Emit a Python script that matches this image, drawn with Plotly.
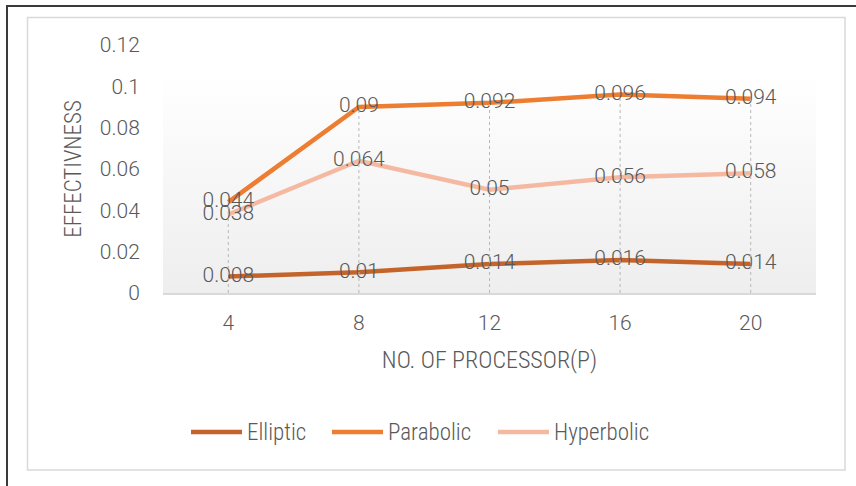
import plotly.graph_objects as go

# ---- data ----
processors = [4, 8, 12, 16, 20]
elliptic = [0.008, 0.010, 0.014, 0.016, 0.014]
parabolic = [0.044, 0.090, 0.092, 0.096, 0.094]
hyperbolic = [0.038, 0.064, 0.050, 0.056, 0.058]
y_ticks = [0, 0.02, 0.04, 0.06, 0.08, 0.1, 0.12]
y_tick_text = ["0", "0.02", "0.04", "0.06", "0.08", "0.1", "0.12"]
series_names = ["Elliptic", "Parabolic", "Hyperbolic"]

# ---- style ----
series_colors = ["#c4642a", "#ed7d31", "#f5b9a2"]
legend_line_x = [191, 332, 498]  # pixel start of each legend sample
W, H = 856, 486
L, R, T, B = 163, 816, 45, 293  # plot area in pixels
X_RANGE = [2, 22]
Y_RANGE = [0, 0.12]
NUM_FONT = "Roboto, Arial, sans-serif"
TXT_FONT = "Liberation Sans Narrow, Roboto Condensed, Roboto, sans-serif"
GREY_TXT = "#595959"


def px(x):
    return (x - L) / (R - L)


def py(y):
    return (B - y) / (B - T)


series_values = [elliptic, parabolic, hyperbolic]

fig = go.Figure()

# plot-area gradient background
fig.add_trace(go.Scatter(
    x=[X_RANGE[0], X_RANGE[1], X_RANGE[1], X_RANGE[0], X_RANGE[0]],
    y=[0, 0, 0.107, 0.107, 0],
    mode="lines", line=dict(width=0), fill="toself",
    fillgradient=dict(type="vertical", start=0, stop=0.107,
                      colorscale=[[0, "#eeeeee"], [1, "#ffffff"]]),
    hoverinfo="skip", showlegend=False,
))

# drop lines from the highest point down to the axis
top_vals = [max(v) for v in zip(*series_values)]
for xv, tv in zip(processors, top_vals):
    fig.add_shape(type="line", x0=xv, x1=xv, y0=0, y1=tv, xref="x", yref="y",
                  line=dict(color="#b8b8b8", width=1, dash="dot"), layer="above")

for name, vals, col in zip(series_names, series_values, series_colors):
    fig.add_trace(go.Scatter(
        x=processors, y=vals, name=name, mode="lines",
        line=dict(color=col, width=4.5), showlegend=False,
    ))

for name, vals, col in zip(series_names, series_values, series_colors):
    fig.add_trace(go.Scatter(
        x=processors, y=vals, mode="text",
        text=[f"{v:g}" for v in vals], textposition="middle center",
        textfont=dict(family=NUM_FONT, size=21, color=GREY_TXT, weight=300),
        showlegend=False, hoverinfo="skip",
    ))

# legend drawn as shapes + text
LEG_Y = 432
for name, col, lx in zip(series_names, series_colors, legend_line_x):
    fig.add_shape(type="line", xref="paper", yref="paper",
                  x0=px(lx), x1=px(lx + 51), y0=py(LEG_Y), y1=py(LEG_Y),
                  line=dict(color=col, width=4.5))
    fig.add_annotation(xref="paper", yref="paper", x=px(lx + 54), y=py(LEG_Y),
                       xanchor="left", yanchor="middle", showarrow=False, text=name,
                       font=dict(family=TXT_FONT, size=23, color=GREY_TXT, weight=300))

# borders
fig.add_shape(type="rect", xref="paper", yref="paper",
              x0=px(27.5), x1=px(845), y0=py(470), y1=py(17.5),
              line=dict(color="#d9d9d9", width=1.5), layer="below")
fig.add_shape(type="rect", xref="paper", yref="paper",
              x0=px(7), x1=px(870), y0=py(500), y1=py(6),
              line=dict(color="#3a3a3a", width=2), layer="below")

fig.update_layout(
    width=W, height=H,
    margin=dict(l=L, r=W - R, t=T, b=H - B, autoexpand=False),
    paper_bgcolor="white", plot_bgcolor="rgba(0,0,0,0)",
    font=dict(family=NUM_FONT, color=GREY_TXT),
    showlegend=False,
    xaxis=dict(range=X_RANGE, tickvals=processors, ticktext=[str(p) for p in processors],
               showgrid=False, zeroline=False, showline=True, linecolor="#d9d9d9", linewidth=2,
               ticks="outside", ticklen=10, tickcolor="rgba(0,0,0,0)",
               tickfont=dict(family=NUM_FONT, size=21, color=GREY_TXT, weight=300),
               title=dict(text="NO. OF PROCESSOR(P)", standoff=17,
                          font=dict(family=TXT_FONT, size=24, color=GREY_TXT, weight=300))),
    yaxis=dict(range=Y_RANGE, tickvals=y_ticks, ticktext=y_tick_text,
               showgrid=False, zeroline=False, showline=False,
               ticks="outside", ticklen=18, tickcolor="rgba(0,0,0,0)",
               tickfont=dict(family=NUM_FONT, size=21, color=GREY_TXT, weight=300),
               title=dict(text="EFFECTIVNESS", standoff=11,
                          font=dict(family=TXT_FONT, size=23, color=GREY_TXT, weight=300))),
)

fig.write_html("out.html")
